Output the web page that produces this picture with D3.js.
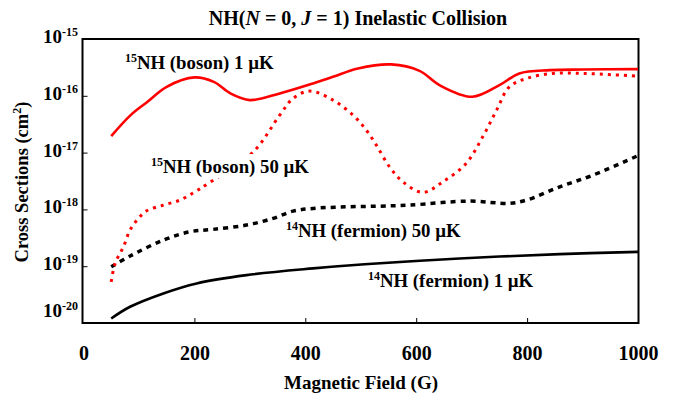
<!DOCTYPE html>
<html>
<head>
<meta charset="utf-8">
<script src="https://cdn.jsdelivr.net/npm/d3@7"></script>
<style>
  html, body { margin: 0; padding: 0; background: #fff; }
  svg text { font-family: "Liberation Serif", "Tinos", "Nimbus Roman", "DejaVu Serif", serif; font-weight: bold; fill: #000; }
</style>
</head>
<body>
<svg id="chart" width="684" height="399"></svg>
<script>
// ---------- data ----------
const xTicks = [0, 200, 400, 600, 800, 1000];
const yTickExponents = [-15, -16, -17, -18, -19, -20];

// 15NH (boson) 1 µK  (red solid)
const fieldBoson1 = [50, 85, 115, 150, 200, 235, 265, 300, 354, 414, 450, 495, 555, 606, 642, 701, 750, 786, 841, 900, 1000];
const sigmaBoson1 = [1.95e-17, 4.57e-17, 7.8e-17, 1.44e-16, 2.11e-16, 1.76e-16, 1.10e-16, 8.4e-17, 1.10e-16, 1.65e-16, 2.16e-16, 3.03e-16, 3.57e-16, 2.75e-16, 1.54e-16, 9.6e-17, 1.54e-16, 2.48e-16, 2.83e-16, 2.9e-16, 2.95e-16];

// 15NH (boson) 50 µK  (red dotted)
const fieldBoson50 = [50, 57, 72, 84, 99, 114, 144, 174, 201, 225, 306, 354, 378, 408, 450, 486, 510, 528, 552, 576, 612, 648, 690, 720, 745, 768, 799, 846, 900, 1000];
const sigmaBoson50 = [5.3e-20, 1.12e-19, 2.2e-19, 4.33e-19, 6.95e-19, 9.45e-19, 1.19e-18, 1.46e-18, 2.04e-18, 2.87e-18, 1.03e-17, 4.57e-17, 9.0e-17, 1.21e-16, 8.4e-17, 4.57e-17, 2.49e-17, 1.36e-17, 5.6e-18, 3.06e-18, 1.99e-18, 3.06e-18, 6.45e-18, 1.9e-17, 5.6e-17, 1.44e-16, 2.02e-16, 2.48e-16, 2.48e-16, 2.22e-16];

// 14NH (fermion) 50 µK  (black dashed)
const fieldFermion50 = [50, 84, 144, 192, 234, 294, 342, 378, 414, 474, 534, 588, 696, 768, 799, 859, 919, 1000];
const sigmaFermion50 = [9.75e-20, 1.51e-19, 2.88e-19, 4.04e-19, 4.45e-19, 5.3e-19, 6.95e-19, 9.33e-19, 1.04e-18, 1.11e-18, 1.14e-18, 1.19e-18, 1.40e-18, 1.28e-18, 1.46e-18, 2.5e-18, 4.02e-18, 8.85e-18];

// 14NH (fermion) 1 µK  (black solid)
const fieldFermion1 = [50, 84, 144, 204, 294, 414, 507, 678, 859, 1000];
const sigmaFermion1 = [1.2e-20, 1.93e-20, 3.32e-20, 4.98e-20, 6.97e-20, 9.14e-20, 1.08e-19, 1.37e-19, 1.63e-19, 1.79e-19];

// ---------- layout ----------
const FONT = '"Liberation Serif", "Tinos", "Nimbus Roman", "DejaVu Serif", serif';
const svg = d3.select("#chart");
const mLeft = 83.5, mRight = 638, mTop = 39, mBottom = 323;

const x = d3.scaleLinear().domain([0, 1000]).range([mLeft, mRight]);
const y = d3.scaleLog().domain([1e-20, 1e-15]).range([mBottom, mTop]);

// frame
svg.append("rect")
  .attr("x", mLeft - 1).attr("y", mTop)
  .attr("width", mRight - mLeft + 1.5).attr("height", mBottom - mTop)
  .attr("fill", "none").attr("stroke", "#000").attr("stroke-width", 2);

// bottom axis ticks (inward)
const xAxis = d3.axisBottom(x).tickValues(xTicks).tickSize(-5).tickFormat(d => d);
const gx = svg.append("g").attr("transform", `translate(0,${mBottom})`).call(xAxis)
  .attr("font-family", FONT);
gx.select(".domain").remove();
gx.selectAll(".tick line").attr("stroke", "#000").attr("stroke-width", 1);
gx.selectAll(".tick text")
  .attr("y", 37).attr("dy", 0)
  .style("font-size", "20px").style("font-family", FONT).style("font-weight", "bold");
gx.selectAll(".tick").filter(d => d === 0 || d === 1000).select("line").remove();

// left axis ticks (inward)
const yAxis = d3.axisLeft(y).tickValues(yTickExponents.map(e => Math.pow(10, e))).tickSize(-5).tickFormat("");
const gy = svg.append("g").attr("transform", `translate(${mLeft - 1},0)`).call(yAxis);
gy.select(".domain").remove();
gy.selectAll(".tick line").attr("stroke", "#000").attr("stroke-width", 1);
gy.selectAll(".tick").filter((d, i) => i === 0 || i === yTickExponents.length - 1).select("line").remove();

// y tick labels 10^n
yTickExponents.forEach(e => {
  const yy = Math.min(y(Math.pow(10, e)) + 4, mBottom - 6);
  const t = svg.append("text")
    .attr("x", 78).attr("y", yy)
    .attr("text-anchor", "end")
    .style("font-size", "19px");
  t.append("tspan").text("10");
  t.append("tspan").attr("dy", -7).style("font-size", "12px").text(String(e));
});

// ---------- curves ----------
const line = d3.line()
  .x(d => x(d[0])).y(d => y(d[1]))
  .curve(d3.curveCatmullRom.alpha(0.5));

function series(fields, sigmas) { return fields.map((f, i) => [f, sigmas[i]]); }

const plot = svg.append("g");

plot.append("path").datum(series(fieldFermion1, sigmaFermion1))
  .attr("d", line).attr("fill", "none").attr("stroke", "#000").attr("stroke-width", 2.6);

plot.append("path").datum(series(fieldFermion50, sigmaFermion50))
  .attr("d", line).attr("fill", "none").attr("stroke", "#000").attr("stroke-width", 3.5)
  .attr("stroke-dasharray", "5,5");

plot.append("path").datum(series(fieldBoson50, sigmaBoson50))
  .attr("d", line).attr("fill", "none").attr("stroke", "#ff0000").attr("stroke-width", 3)
  .attr("stroke-dasharray", "3,5");

plot.append("path").datum(series(fieldBoson1, sigmaBoson1))
  .attr("d", line).attr("fill", "none").attr("stroke", "#ff0000").attr("stroke-width", 2.6);

// ---------- labels ----------
function curveLabel(px, py, iso, rest, bg) {
  const g = svg.append("g");
  const t = g.append("text").attr("x", px).attr("y", py).style("font-size", "18.8px");
  t.append("tspan").attr("dy", -7).style("font-size", "12px").text(iso);
  t.append("tspan").attr("dy", 7).text(rest);
  if (bg) {
    const b = t.node().getBBox();
    g.insert("rect", "text").attr("x", b.x - 3).attr("y", b.y - 1)
      .attr("width", b.width + 6).attr("height", b.height + 1).attr("fill", "#fff");
  }
}
curveLabel(125, 69, "15", "NH (boson) 1 \u00b5K", false);
curveLabel(151, 173, "15", "NH (boson) 50 \u00b5K", true);
curveLabel(286, 237, "14", "NH (fermion) 50 \u00b5K", true);
curveLabel(368, 287, "14", "NH (fermion) 1 \u00b5K", false);

// title
const title = svg.append("text").attr("x", 358).attr("y", 25).attr("text-anchor", "middle").style("font-size", "20px");
title.append("tspan").text("NH(");
title.append("tspan").style("font-style", "italic").text("N");
title.append("tspan").text(" = 0, ");
title.append("tspan").style("font-style", "italic").text("J");
title.append("tspan").text(" = 1) Inelastic Collision");

// axis titles
svg.append("text").attr("x", 361).attr("y", 389).attr("text-anchor", "middle")
  .style("font-size", "19px").text("Magnetic Field (G)");

const yl = svg.append("text").attr("transform", "translate(28,182) rotate(-90)")
  .attr("text-anchor", "middle").style("font-size", "18.5px");
yl.append("tspan").text("Cross Sections (cm");
yl.append("tspan").attr("dy", -7).style("font-size", "12px").text("2");
yl.append("tspan").attr("dy", 7).text(")");
</script>
</body>
</html>
